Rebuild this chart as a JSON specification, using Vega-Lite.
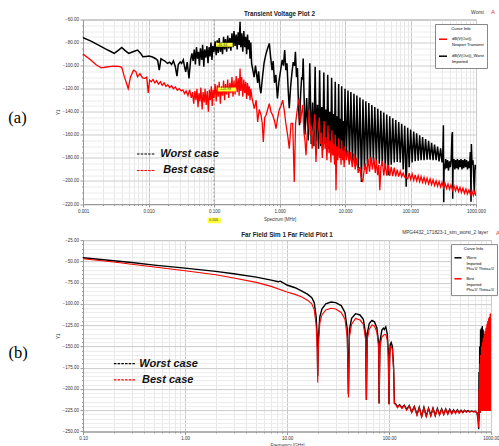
{
"$schema": "https://vega.github.io/schema/vega-lite/v6.json",
"background": "white",
"padding": {"left": 7, "top": 8.5, "right": 0, "bottom": 0},
"bounds": "flush",
"spacing": 35.6,
"resolve": {"scale": {"color": "independent"}, "legend": {"color": "independent"}},
"config": {
  "font": "Liberation Sans",
  "view": {"stroke": "#a0a0a0", "strokeWidth": 1},
  "axis": {"labelFont": "Liberation Sans", "labelFontSize": 4.5, "labelColor": "#333", "domainColor": "#999", "tickColor": "#999", "titleFont": "Liberation Sans", "titleFontSize": 4.5, "titleFontWeight": "normal", "titleColor": "#333", "labelOverlap": false, "labelFlush": false, "grid": true},
  "title": {"font": "Liberation Sans", "fontSize": 6.3, "fontWeight": "bold", "color": "#222"}
},
"datasets": {
"aw": [
{"f":0.001,"v":-75.8},{"f":0.0013,"v":-78.5},{"f":0.0017,"v":-82},{"f":0.0022,"v":-85.5},{"f":0.0027,"v":-88},{"f":0.003,"v":-89.4},{"f":0.0035,"v":-86.5},{"f":0.0039,"v":-84.2},{"f":0.0044,"v":-87},{"f":0.005,"v":-89.4},{"f":0.0058,"v":-88},{"f":0.0068,"v":-86.5},{"f":0.0075,"v":-89},{"f":0.0082,"v":-92.3},{"f":0.0092,"v":-92},{"f":0.0102,"v":-91.7},{"f":0.0115,"v":-92.5},{"f":0.0127,"v":-93.8},{"f":0.0138,"v":-95.5},{"f":0.0146,"v":-103.9},{"f":0.0155,"v":-94},{"f":0.0165,"v":-95},{"f":0.0178,"v":-96},{"f":0.0195,"v":-98.1},{"f":0.021,"v":-97},{"f":0.0225,"v":-99},{"f":0.024,"v":-96},{"f":0.0257,"v":-101},{"f":0.0272,"v":-109.1},{"f":0.0285,"v":-99},{"f":0.0305,"v":-96.7},
{"f":0.032,"v":-98},{"f":0.034,"v":-95},{"f":0.0355,"v":-101},{"f":0.037,"v":-105.4},{"f":0.039,"v":-97},{"f":0.0415,"v":-111.2},{"f":0.044,"v":-95},{"f":0.046,"v":-89.4},{"f":0.048,"v":-96},{"f":0.05,"v":-86},{"f":0.052,"v":-99},{"f":0.054,"v":-84},{"f":0.056,"v":-94},{"f":0.058,"v":-88},{"f":0.06,"v":-100},{"f":0.062,"v":-85},{"f":0.065,"v":-95},{"f":0.067,"v":-82},{"f":0.07,"v":-101},{"f":0.072,"v":-86},{"f":0.075,"v":-93},{"f":0.078,"v":-83},{"f":0.081,"v":-98},{"f":0.084,"v":-84},{"f":0.087,"v":-92},{"f":0.09,"v":-80},{"f":0.093,"v":-95},{"f":0.096,"v":-83},{"f":0.1,"v":-88},
{"f":0.104,"v":-79},{"f":0.108,"v":-91},{"f":0.112,"v":-78},{"f":0.116,"v":-89},{"f":0.12,"v":-76},{"f":0.125,"v":-88},{"f":0.13,"v":-80},{"f":0.135,"v":-90},{"f":0.14,"v":-75},{"f":0.145,"v":-86},{"f":0.15,"v":-77},{"f":0.156,"v":-88},{"f":0.162,"v":-74},{"f":0.168,"v":-85},{"f":0.175,"v":-76},{"f":0.181,"v":-87},{"f":0.188,"v":-72},{"f":0.195,"v":-84},{"f":0.202,"v":-70},{"f":0.21,"v":-83},{"f":0.218,"v":-73},{"f":0.226,"v":-86},{"f":0.234,"v":-71},{"f":0.242,"v":-82},{"f":0.25,"v":-62},{"f":0.256,"v":-84},{"f":0.265,"v":-72},{"f":0.275,"v":-88},{"f":0.285,"v":-70},{"f":0.295,"v":-84},{"f":0.305,"v":-75},{"f":0.315,"v":-90},{"f":0.325,"v":-73},{"f":0.335,"v":-86},{"f":0.345,"v":-78},{"f":0.355,"v":-94},{"f":0.365,"v":-80},{"f":0.375,"v":-98},
{"f":0.41,"v":-110},{"f":0.43,"v":-100},{"f":0.464,"v":-115},{"f":0.48,"v":-105},{"f":0.5,"v":-118},{"f":0.52,"v":-124},
{"f":0.55,"v":-110},{"f":0.58,"v":-98},{"f":0.62,"v":-90},{"f":0.66,"v":-85},{"f":0.7,"v":-80.7},{"f":0.73,"v":-92},{"f":0.77,"v":-104},{"f":0.8,"v":-96},{"f":0.84,"v":-115},{"f":0.88,"v":-108},{"f":0.93,"v":-128.5},{"f":0.98,"v":-114},{"f":1.04,"v":-104},{"f":1.1,"v":-95},{"f":1.15,"v":-100},{"f":1.2,"v":-86.5},{"f":1.25,"v":-104},{"f":1.3,"v":-98},{"f":1.36,"v":-122},{"f":1.41,"v":-137},{"f":1.48,"v":-118},{"f":1.55,"v":-106},{"f":1.62,"v":-97},{"f":1.7,"v":-100},{"f":1.75,"v":-88},{"f":1.82,"v":-110},{"f":1.88,"v":-102},{"f":1.95,"v":-135},{"f":2.02,"v":-151.7},{"f":2.1,"v":-125},{"f":2.18,"v":-110},{"f":2.24,"v":-112},
{"f":2.3,"v":-93.8},{"f":2.45,"v":-160},{"f":2.6,"v":-128},{"f":2.75,"v":-165},{"f":2.9,"v":-98},{"f":3.05,"v":-168},{"f":3.2,"v":-132},{"f":3.35,"v":-170},{"f":3.5,"v":-101},{"f":3.65,"v":-166},{"f":3.8,"v":-134},{"f":3.95,"v":-172},{"f":4.1,"v":-104},{"f":4.26,"v":-170},{"f":4.42,"v":-136},{"f":4.58,"v":-173},{"f":4.75,"v":-106},{"f":4.92,"v":-168},{"f":5.1,"v":-138},{"f":5.27,"v":-175},{"f":5.45,"v":-108},{"f":5.65,"v":-172},{"f":5.85,"v":-140},{"f":6.05,"v":-176},{"f":6.25,"v":-110.6},{"f":6.46,"v":-170},{"f":6.67,"v":-142},{"f":6.88,"v":-177},{"f":7.1,"v":-114},{"f":7.32,"v":-174},{"f":7.55,"v":-144},{"f":7.78,"v":-178},{"f":8.0,"v":-116},{"f":8.22,"v":-172},{"f":8.45,"v":-146},{"f":8.67,"v":-179},{"f":8.9,"v":-118},{"f":9.17,"v":-176},{"f":9.45,"v":-148},{"f":9.72,"v":-180},
{"f":10,"v":-120},{"f":10.54,"v":-178},{"f":11.1,"v":-121.5},{"f":11.7,"v":-183},{"f":12.3,"v":-122.8},{"f":13.0,"v":-185},{"f":13.7,"v":-124.4},{"f":14.4,"v":-187},{"f":15.2,"v":-126},{"f":16.0,"v":-189},{"f":16.9,"v":-127.7},{"f":17.8,"v":-201},{"f":18.8,"v":-129.4},{"f":19.8,"v":-190},{"f":20.8,"v":-130.9},{"f":22.0,"v":-186},{"f":23.1,"v":-132.5},{"f":24.4,"v":-184},{"f":25.7,"v":-134.2},{"f":27.1,"v":-183},{"f":28.5,"v":-135.8},{"f":30.1,"v":-184},{"f":31.7,"v":-137.5},{"f":33.4,"v":-185},{"f":35.2,"v":-139.1},{"f":37.1,"v":-187},{"f":39.1,"v":-140.7},{"f":41.2,"v":-190},{"f":43.4,"v":-142.4},{"f":45.8,"v":-195},{"f":48.2,"v":-144},{"f":50.8,"v":-186},{"f":53.6,"v":-145.7},{"f":56.5,"v":-184},{"f":59.5,"v":-147.2},{"f":62.7,"v":-183.5},{"f":66.1,"v":-148.9},{"f":69.7,"v":-184},{"f":73.4,"v":-150.5},{"f":77.4,"v":-190},{"f":81.6,"v":-152.2},{"f":86.0,"v":-205},{"f":90.6,"v":-153.8},{"f":95.5,"v":-188},{"f":100.6,"v":-155.4},{"f":106,"v":-184},{"f":112,"v":-157.1},{"f":118,"v":-183},{"f":124,"v":-158.7},{"f":131,"v":-182.5},{"f":138,"v":-160.4},{"f":145,"v":-182},{"f":153,"v":-162},{"f":161,"v":-182},{"f":170,"v":-163.6},{"f":179,"v":-181.5},{"f":189,"v":-165.2},{"f":199,"v":-181.5},{"f":210,"v":-166.9},{"f":221,"v":-182},{"f":233,"v":-168.5},{"f":246,"v":-182},{"f":259,"v":-170.2},{"f":273,"v":-183},{"f":288,"v":-171.8},{"f":303,"v":-184},
{"f":310,"v":-180},{"f":318,"v":-151.7},{"f":322,"v":-218.4},{"f":326,"v":-185},{"f":335,"v":-190},{"f":345,"v":-181},{"f":355,"v":-189},{"f":368,"v":-182},{"f":380,"v":-191},{"f":393,"v":-183},{"f":405,"v":-188},{"f":418,"v":-182},{"f":430,"v":-160},{"f":437,"v":-157.6},{"f":441,"v":-215.5},{"f":447,"v":-186},{"f":460,"v":-181},{"f":475,"v":-190},{"f":490,"v":-182},{"f":505,"v":-189},{"f":520,"v":-181},{"f":537,"v":-190},{"f":555,"v":-182},{"f":572,"v":-188},{"f":590,"v":-181},{"f":610,"v":-190},{"f":630,"v":-182},{"f":650,"v":-189},{"f":672,"v":-181},{"f":695,"v":-188},{"f":718,"v":-182},{"f":742,"v":-190},{"f":767,"v":-183},{"f":793,"v":-189},{"f":820,"v":-175},{"f":840,"v":-218},{"f":850,"v":-168},{"f":870,"v":-186},{"f":900,"v":-182},{"f":942,"v":-209.7},{"f":970,"v":-186},{"f":1000,"v":-190}
],
"ab": [
{"f":0.001,"v":-90},{"f":0.0013,"v":-95},{"f":0.0016,"v":-99.5},{"f":0.0019,"v":-101.9},{"f":0.0023,"v":-101.2},{"f":0.0027,"v":-100.7},{"f":0.003,"v":-100.4},{"f":0.0035,"v":-100.6},{"f":0.0039,"v":-101.5},{"f":0.0043,"v":-110},{"f":0.0049,"v":-119.9},{"f":0.0053,"v":-110},{"f":0.0059,"v":-103.9},{"f":0.0064,"v":-105},{"f":0.0068,"v":-109.7},{"f":0.0074,"v":-107},{"f":0.0081,"v":-110.6},{"f":0.0088,"v":-111},{"f":0.0094,"v":-110},{"f":0.0099,"v":-123.6},{"f":0.0104,"v":-112.6},{"f":0.011,"v":-114},{"f":0.0117,"v":-112},{"f":0.0125,"v":-115},{"f":0.0133,"v":-113},{"f":0.0142,"v":-116},{"f":0.0152,"v":-114},{"f":0.0162,"v":-117},{"f":0.0173,"v":-115},{"f":0.0185,"v":-118},{"f":0.0197,"v":-116.5},{"f":0.021,"v":-119},{"f":0.0225,"v":-117.5},{"f":0.024,"v":-120},{"f":0.0257,"v":-118.5},{"f":0.0275,"v":-121.3},{"f":0.0295,"v":-120},{"f":0.0315,"v":-122},
{"f":0.0335,"v":-121},{"f":0.0355,"v":-124.2},{"f":0.0375,"v":-122},{"f":0.04,"v":-126},{"f":0.0425,"v":-121},{"f":0.045,"v":-128},{"f":0.047,"v":-123},{"f":0.049,"v":-133},{"f":0.051,"v":-122},{"f":0.053,"v":-130},{"f":0.055,"v":-120},{"f":0.057,"v":-136},{"f":0.059,"v":-124},{"f":0.061,"v":-131},{"f":0.063,"v":-119},{"f":0.066,"v":-138},{"f":0.068,"v":-123},{"f":0.071,"v":-132},{"f":0.073,"v":-120},{"f":0.076,"v":-134},{"f":0.079,"v":-122},{"f":0.082,"v":-140},{"f":0.085,"v":-121},{"f":0.088,"v":-130},{"f":0.091,"v":-118},{"f":0.094,"v":-135},{"f":0.097,"v":-121},{"f":0.1,"v":-128},
{"f":0.104,"v":-116},{"f":0.108,"v":-131},{"f":0.112,"v":-117},{"f":0.116,"v":-127},{"f":0.12,"v":-114},{"f":0.125,"v":-133},{"f":0.13,"v":-118},{"f":0.135,"v":-126},{"f":0.14,"v":-113},{"f":0.145,"v":-130},{"f":0.15,"v":-116},{"f":0.156,"v":-125},{"f":0.162,"v":-112},{"f":0.168,"v":-128},{"f":0.175,"v":-115},{"f":0.181,"v":-124},{"f":0.188,"v":-110},{"f":0.195,"v":-127},{"f":0.202,"v":-113},{"f":0.21,"v":-125},{"f":0.218,"v":-109},{"f":0.226,"v":-123},{"f":0.234,"v":-111},{"f":0.242,"v":-126},{"f":0.25,"v":-102.5},{"f":0.256,"v":-122},{"f":0.265,"v":-110},{"f":0.275,"v":-127},{"f":0.285,"v":-112},{"f":0.295,"v":-124},{"f":0.305,"v":-114},{"f":0.315,"v":-129},{"f":0.325,"v":-115},{"f":0.335,"v":-126},{"f":0.345,"v":-118},{"f":0.355,"v":-130},{"f":0.365,"v":-120},
{"f":0.38,"v":-128},{"f":0.412,"v":-137.2},{"f":0.44,"v":-130},{"f":0.464,"v":-148.9},{"f":0.49,"v":-138},{"f":0.523,"v":-143},{"f":0.545,"v":-150},{"f":0.566,"v":-166.3},{"f":0.595,"v":-145},{"f":0.622,"v":-143},{"f":0.66,"v":-138},{"f":0.698,"v":-132.9},{"f":0.74,"v":-140},{"f":0.787,"v":-143},{"f":0.84,"v":-148},{"f":0.884,"v":-154.6},{"f":0.94,"v":-145},{"f":0.993,"v":-138},{"f":1.05,"v":-135},{"f":1.12,"v":-130},{"f":1.19,"v":-140},{"f":1.26,"v":-151.7},{"f":1.33,"v":-160},{"f":1.41,"v":-172},{"f":1.5,"v":-150},{"f":1.59,"v":-150},{"f":1.68,"v":-201},{"f":1.76,"v":-150},{"f":1.85,"v":-140},{"f":1.93,"v":-132},{"f":2.0,"v":-128.5},{"f":2.08,"v":-150},{"f":2.16,"v":-142},{"f":2.26,"v":-134},{"f":2.36,"v":-158},{"f":2.45,"v":-165},{"f":2.54,"v":-177.8},{"f":2.64,"v":-160},{"f":2.75,"v":-150},{"f":2.85,"v":-138},{"f":2.95,"v":-160},{"f":3.05,"v":-152},{"f":3.15,"v":-172},{"f":3.3,"v":-156},{"f":3.45,"v":-142},{"f":3.6,"v":-183.6},{"f":3.75,"v":-162},{"f":3.9,"v":-155},{"f":4.05,"v":-145},{"f":4.2,"v":-168},{"f":4.35,"v":-158},{"f":4.5,"v":-180},{"f":4.65,"v":-165},{"f":4.8,"v":-148},{"f":4.95,"v":-172},{"f":5.1,"v":-162},{"f":5.3,"v":-182},{"f":5.5,"v":-152},{"f":5.7,"v":-176},{"f":5.9,"v":-165},{"f":6.1,"v":-184},{"f":6.3,"v":-156},{"f":6.5,"v":-178},{"f":6.7,"v":-168},{"f":6.95,"v":-186},{"f":7.1,"v":-160},{"f":7.29,"v":-208},{"f":7.5,"v":-170},{"f":7.75,"v":-182},{"f":8.0,"v":-163},{"f":8.25,"v":-180},{"f":8.5,"v":-172},{"f":8.7,"v":-186},{"f":8.9,"v":-165},{"f":9.2,"v":-182},{"f":9.45,"v":-174},{"f":9.7,"v":-188},{"f":10.0,"v":-170},
{"f":10.5,"v":-182},{"f":11.0,"v":-173.5},{"f":11.6,"v":-186},{"f":12.2,"v":-175},{"f":12.9,"v":-188},{"f":13.6,"v":-176},{"f":14.3,"v":-190},{"f":15.1,"v":-180},{"f":15.9,"v":-193},{"f":16.8,"v":-188},{"f":17.7,"v":-197},{"f":18.6,"v":-201},{"f":19.5,"v":-192},{"f":20.4,"v":-185},{"f":21.4,"v":-194},{"f":22.5,"v":-181},{"f":23.7,"v":-192},{"f":24.9,"v":-179},{"f":26.2,"v":-190},{"f":27.6,"v":-180},{"f":29.0,"v":-193},{"f":30.2,"v":-182},{"f":31.5,"v":-195},{"f":32.8,"v":-186},{"f":34.0,"v":-208},{"f":35.3,"v":-188},
{"f":37.1,"v":-182.7},{"f":39.1,"v":-195.2},{"f":41.2,"v":-184.7},{"f":43.4,"v":-195.4},{"f":45.8,"v":-186.2},{"f":48.2,"v":-195.6},{"f":50.8,"v":-187.7},{"f":53.6,"v":-195.8},{"f":56.5,"v":-188.5},{"f":59.5,"v":-196},{"f":62.7,"v":-190.1},{"f":66.1,"v":-196.2},{"f":69.7,"v":-191.6},{"f":73.4,"v":-196.4},{"f":77.4,"v":-193.1},{"f":81.6,"v":-196.7},{"f":86.0,"v":-197},{"f":90.6,"v":-198.2},{"f":95.5,"v":-193.3},{"f":100.6,"v":-198.6},{"f":106,"v":-194},{"f":112,"v":-199.3},{"f":118,"v":-194.7},{"f":124,"v":-199.9},{"f":131,"v":-195.5},{"f":138,"v":-200.6},{"f":145,"v":-196.2},{"f":153,"v":-201.2},{"f":161,"v":-196.9},{"f":170,"v":-201.9},{"f":179,"v":-197.6},{"f":189,"v":-202.5},{"f":199,"v":-198.3},{"f":210,"v":-203.2},{"f":221,"v":-199.1},{"f":233,"v":-203.9},{"f":246,"v":-199.8},{"f":259,"v":-204.6},{"f":273,"v":-200.5},{"f":288,"v":-205.2},{"f":303,"v":-201.2},{"f":319,"v":-205.9},{"f":336,"v":-202},{"f":355,"v":-206.6},{"f":374,"v":-202.7},{"f":394,"v":-207.3},{"f":415,"v":-203.4},{"f":438,"v":-208},{"f":461,"v":-204.1},{"f":486,"v":-208.6},{"f":512,"v":-204.8},{"f":540,"v":-209.3},{"f":569,"v":-205.6},{"f":600,"v":-210},{"f":632,"v":-206.3},{"f":666,"v":-210.7},{"f":702,"v":-207},{"f":740,"v":-211.3},{"f":780,"v":-207.8},{"f":822,"v":-212},{"f":866,"v":-208.5},{"f":913,"v":-212.7},{"f":962,"v":-209.2},{"f":1000,"v":-213}
],
"bw": [
{"f":0.1,"v":-45.8},{"f":0.2,"v":-49.3},{"f":0.3,"v":-51.3},{"f":0.5,"v":-54.4},{"f":1.0,"v":-57.9},{"f":2.0,"v":-61.8},{"f":3.0,"v":-64.5},{"f":5.0,"v":-68.5},{"f":7.0,"v":-72},{"f":8.2,"v":-74},{"f":8.6,"v":-73.3},{"f":9.0,"v":-74.8},{"f":10,"v":-77.8},{"f":12,"v":-81},{"f":14,"v":-84.9},{"f":16,"v":-88.8},{"f":17.5,"v":-92.7},{"f":18.5,"v":-98.6},{"f":19.3,"v":-115},{"f":19.8,"v":-140},{"f":20.0,"v":-185},{"f":20.3,"v":-140},{"f":21,"v":-115},{"f":22,"v":-106},{"f":24,"v":-100},{"f":27,"v":-97.8},{"f":30,"v":-98.5},{"f":34,"v":-102},{"f":37,"v":-110},{"f":39,"v":-130},{"f":40,"v":-206},{"f":41,"v":-130},{"f":43,"v":-117},{"f":47,"v":-111.5},{"f":52,"v":-113},{"f":56,"v":-118},{"f":59,"v":-135},{"f":60,"v":-213},{"f":61.2,"v":-135},{"f":64,"v":-123},{"f":68,"v":-119.4},{"f":72,"v":-121},{"f":76,"v":-128},{"f":79,"v":-145},{"f":80,"v":-217},{"f":81.5,"v":-145},{"f":85,"v":-131},{"f":88,"v":-128.5},{"f":90,"v":-130},{"f":93,"v":-127},{"f":96,"v":-135},{"f":98.5,"v":-155},{"f":100,"v":-218},{"f":101.5,"v":-160},{"f":103,"v":-148},{"f":105,"v":-145.5},{"f":108,"v":-150},{"f":111,"v":-175},{"f":113,"v":-217},
{"f":116,"v":-217.5},{"f":121,"v":-221},{"f":127,"v":-218.5},{"f":134,"v":-222},{"f":141,"v":-219},{"f":149,"v":-224},{"f":158,"v":-219.5},{"f":167,"v":-227},{"f":177,"v":-220.5},{"f":188,"v":-230},{"f":198,"v":-221.5},{"f":209,"v":-232},{"f":220,"v":-221.5},{"f":232,"v":-232},{"f":244,"v":-222.5},{"f":257,"v":-231},{"f":270,"v":-222.5},{"f":284,"v":-231},{"f":298,"v":-223},{"f":313,"v":-230},{"f":328,"v":-223.5},{"f":344,"v":-229.5},{"f":360,"v":-223.5},{"f":377,"v":-229},{"f":394,"v":-224},{"f":412,"v":-228.5},{"f":430,"v":-224.5},{"f":449,"v":-228},{"f":468,"v":-224.5},{"f":488,"v":-228},{"f":508,"v":-225},{"f":529,"v":-227.5},{"f":551,"v":-225},{"f":573,"v":-227},{"f":596,"v":-225.5},{"f":620,"v":-226.8},{"f":645,"v":-225.8},{"f":670,"v":-226.6},{"f":700,"v":-226.2},{"f":730,"v":-228},{"f":748,"v":-237},{"f":757,"v":-247.3},
{"f":762,"v":-180},{"f":768,"v":-235},{"f":775,"v":-150},{"f":782,"v":-228},{"f":790,"v":-130},{"f":798,"v":-226},{"f":806,"v":-128},{"f":814,"v":-226},{"f":822,"v":-126},{"f":830,"v":-226},{"f":838,"v":-130},{"f":846,"v":-226},{"f":855,"v":-135},{"f":864,"v":-226},{"f":873,"v":-140},{"f":882,"v":-226},{"f":891,"v":-145},{"f":900,"v":-226},{"f":909,"v":-150},{"f":918,"v":-226},{"f":927,"v":-150},{"f":936,"v":-226},{"f":945,"v":-155},{"f":954,"v":-226},{"f":963,"v":-155},{"f":972,"v":-226},{"f":981,"v":-160},{"f":990,"v":-226},{"f":1000,"v":-160}
],
"bb": [
{"f":0.1,"v":-47},{"f":0.2,"v":-50.8},{"f":0.3,"v":-53.4},{"f":0.5,"v":-56.7},{"f":1.0,"v":-61},{"f":2.0,"v":-65.7},{"f":3.0,"v":-69.6},{"f":5.0,"v":-74.7},{"f":7.0,"v":-79.4},{"f":10,"v":-86},{"f":12,"v":-88.8},{"f":14,"v":-91.9},{"f":16,"v":-95.9},{"f":17.5,"v":-100},{"f":18.5,"v":-107},{"f":19.3,"v":-125},{"f":19.8,"v":-155},{"f":20,"v":-192.5},{"f":20.3,"v":-150},{"f":21,"v":-122},{"f":22,"v":-113},{"f":24,"v":-107},{"f":27,"v":-105.2},{"f":30,"v":-106},{"f":34,"v":-110},{"f":37,"v":-118},{"f":39,"v":-140},{"f":40,"v":-210},{"f":41,"v":-138},{"f":43,"v":-124},{"f":47,"v":-117},{"f":52,"v":-119},{"f":56,"v":-124},{"f":59,"v":-142},{"f":60,"v":-213},{"f":61.2,"v":-142},{"f":64,"v":-130},{"f":68,"v":-124.8},{"f":72,"v":-126},{"f":76,"v":-133},{"f":79,"v":-150},{"f":80,"v":-217},{"f":81.5,"v":-152},{"f":85,"v":-139},{"f":90,"v":-136},{"f":93,"v":-136},{"f":96,"v":-142},{"f":98.5,"v":-162},{"f":100,"v":-218},{"f":101.5,"v":-165},{"f":103,"v":-152},{"f":105,"v":-149.4},{"f":108,"v":-154},{"f":111,"v":-178},{"f":113,"v":-216.8},
{"f":116,"v":-218},{"f":121,"v":-222},{"f":127,"v":-219},{"f":134,"v":-223},{"f":141,"v":-219.5},{"f":149,"v":-225},{"f":158,"v":-220},{"f":167,"v":-228},{"f":177,"v":-221},{"f":188,"v":-231},{"f":198,"v":-222},{"f":209,"v":-233},{"f":220,"v":-222},{"f":232,"v":-233},{"f":244,"v":-223},{"f":257,"v":-232},{"f":270,"v":-223},{"f":284,"v":-232},{"f":298,"v":-223.5},{"f":313,"v":-231},{"f":328,"v":-224},{"f":344,"v":-230.5},{"f":360,"v":-224},{"f":377,"v":-230},{"f":394,"v":-224.5},{"f":412,"v":-229.5},{"f":430,"v":-225},{"f":449,"v":-229},{"f":468,"v":-225},{"f":488,"v":-228.5},{"f":508,"v":-225.5},{"f":529,"v":-228},{"f":551,"v":-225.5},{"f":573,"v":-227.5},{"f":596,"v":-226},{"f":620,"v":-227.2},{"f":645,"v":-226.2},{"f":670,"v":-227},{"f":700,"v":-226.5},{"f":730,"v":-228},{"f":748,"v":-236},{"f":757,"v":-245.3},
{"f":762,"v":-200},{"f":768,"v":-238},{"f":775,"v":-170},{"f":782,"v":-228},{"f":790,"v":-160},{"f":798,"v":-226},{"f":806,"v":-150},{"f":814,"v":-226},{"f":822,"v":-145},{"f":830,"v":-226},{"f":838,"v":-140},{"f":846,"v":-226},{"f":855,"v":-136},{"f":864,"v":-226},{"f":873,"v":-132},{"f":882,"v":-226},{"f":891,"v":-128},{"f":900,"v":-226},{"f":909,"v":-124},{"f":918,"v":-226},{"f":927,"v":-120},{"f":936,"v":-226},{"f":945,"v":-117},{"f":954,"v":-226},{"f":963,"v":-115},{"f":972,"v":-226},{"f":981,"v":-112},{"f":990,"v":-226},{"f":1000,"v":-110.3}
]
},
"vconcat": [
{
  "width": 393, "height": 184.5,
  "title": {"text": "Transient Voltage Plot 2", "frame": "group", "offset": -8.5},
  "encoding": {
    "x": {"field": "f", "type": "quantitative",
      "scale": {"type": "log", "domain": [0.001, 1000], "nice": false},
      "axis": {"title": "Spectrum [MHz]", "titlePadding": 3.5, "labelPadding": 1,
        "values": [0.001,0.002,0.003,0.004,0.005,0.006,0.007,0.008,0.009,0.01,0.02,0.03,0.04,0.05,0.06,0.07,0.08,0.09,0.1,0.2,0.3,0.4,0.5,0.6,0.7,0.8,0.9,1,2,3,4,5,6,7,8,9,10,20,30,40,50,60,70,80,90,100,200,300,400,500,600,700,800,900,1000],
        "labelExpr": "abs(log(datum.value)/LN10 - round(log(datum.value)/LN10)) < 0.01 ? format(datum.value, '.3f') : ''",
        "gridColor": {"condition": {"test": "abs(log(datum.value)/LN10 - round(log(datum.value)/LN10)) < 0.01", "value": "#c8c8c8"}, "value": "#e8e8e8"},
        "tickSize": {"condition": {"test": "abs(log(datum.value)/LN10 - round(log(datum.value)/LN10)) < 0.01", "value": 3}, "value": 1.5}}},
    "y": {"field": "v", "type": "quantitative",
      "scale": {"domain": [-220, -60], "nice": false, "zero": false},
      "axis": {"title": "Y1", "titlePadding": 2, "labelPadding": 1.5,
        "values": [-220,-215,-210,-205,-200,-195,-190,-185,-180,-175,-170,-165,-160,-155,-150,-145,-140,-135,-130,-125,-120,-115,-110,-105,-100,-95,-90,-85,-80,-75,-70,-65,-60],
        "labelExpr": "datum.value % 20 === 0 ? format(datum.value, '.2f') : ''",
        "gridColor": {"condition": {"test": "datum.value % 20 === 0", "value": "#cccccc"}, "value": "#ececec"},
        "tickSize": {"condition": {"test": "datum.value % 20 === 0", "value": 3}, "value": 1.5}}}
  },
  "layer": [
    {"data": {"values": [{"f": 0.1, "v": -60, "v2": -220}]},
     "mark": {"type": "rule", "color": "#8c8c8c", "strokeDash": [2, 2], "strokeWidth": 0.8},
     "encoding": {"y2": {"field": "v2"}}},
    {"data": {"name": "aw"},
     "mark": {"type": "line", "strokeWidth": 1.5, "clip": true},
     "encoding": {"color": {"datum": "dB(V(Out))_Worst|Imported",
        "scale": {"domain": ["dB(V(Out))|Nexport Transient", "dB(V(Out))_Worst|Imported"], "range": ["#ff0000", "#000000"]},
        "legend": {"title": "Curve Info", "orient": "none", "legendX": 352, "legendY": 4.5, "fillColor": "#ffffff", "strokeColor": "#888888", "padding": 3, "titleFontSize": 4.2, "titleFontWeight": "normal", "titleAnchor": "middle", "titlePadding": 3, "labelFontSize": 4, "labelExpr": "split(datum.label, '|')", "symbolType": "stroke", "symbolStrokeWidth": 1.5, "symbolSize": 64, "rowPadding": 4, "labelLimit": 100}}}},
    {"data": {"name": "ab"},
     "mark": {"type": "line", "strokeWidth": 1.3, "clip": true},
     "encoding": {"color": {"datum": "dB(V(Out))|Nexport Transient"}}},
    {"data": {"values": [
        {"f": 0.1073, "f2": 0.193, "v": -80.2, "v2": -83.6, "vm": -81.9, "t": "-81.64"},
        {"f": 0.1143, "f2": 0.2164, "v": -119, "v2": -122.4, "vm": -120.7, "t": "-120.98"},
        {"f": 0.08, "f2": 0.1271, "v": -232, "v2": -236.7, "vm": -234.3, "t": "0.100"}]},
     "layer": [
       {"mark": {"type": "rect", "fill": "#ffff33"},
        "encoding": {"x2": {"field": "f2"}, "y2": {"field": "v2"}}},
       {"mark": {"type": "text", "fontSize": 3.5, "align": "left", "dx": 1.5, "baseline": "middle", "color": "#333"},
        "encoding": {"y": {"field": "vm", "type": "quantitative"}, "text": {"field": "t"}}}
     ]},
    {"data": {"values": [
        {"f": 0.00668, "f2": 0.01256, "v": -176.7, "c": "#000000"},
        {"f": 0.00668, "f2": 0.01256, "v": -190.9, "c": "#ff0000"}]},
     "mark": {"type": "rule", "strokeDash": [2.5, 1.2], "strokeWidth": 1.1},
     "encoding": {"x2": {"field": "f2"}, "stroke": {"field": "c", "type": "nominal", "scale": null}}},
    {"data": {"values": [
        {"f": 0.01514, "v": -176.7, "t": "Worst case"},
        {"f": 0.01683, "v": -190.9, "t": "Best case"}]},
     "mark": {"type": "text", "font": "Liberation Sans", "fontSize": 11, "fontStyle": "italic", "fontWeight": "bold", "align": "left", "baseline": "middle", "color": "#111"},
     "encoding": {"text": {"field": "t"}}},
    {"data": {"values": [{"f": 0.0001, "v": -145.7, "t": "(a)"}]},
     "mark": {"type": "text", "font": "Liberation Serif", "fontSize": 16.5, "align": "center", "baseline": "middle", "color": "#000"},
     "encoding": {"text": {"field": "t"}}},
    {"data": {"values": [{"f": 1325, "v": -53.5, "t": "Worst"}]},
     "mark": {"type": "text", "fontSize": 5, "align": "right", "baseline": "middle", "color": "#333"},
     "encoding": {"text": {"field": "t"}}},
    {"data": {"values": [{"f": 1818, "v": -53.5, "t": "A"}]},
     "mark": {"type": "text", "fontSize": 6, "align": "center", "baseline": "middle", "color": "#e03030"},
     "encoding": {"text": {"field": "t"}}}
  ]
},
{
  "width": 408, "height": 191.4,
  "title": {"text": "Far Field Sim 1 Far Field Plot 1", "frame": "group", "offset": -8},
  "encoding": {
    "x": {"field": "f", "type": "quantitative",
      "scale": {"type": "log", "domain": [0.1, 1000], "nice": false},
      "axis": {"title": "Frequency [GHz]", "titlePadding": 2, "labelPadding": 1,
        "values": [0.1,0.2,0.3,0.4,0.5,0.6,0.7,0.8,0.9,1,2,3,4,5,6,7,8,9,10,20,30,40,50,60,70,80,90,100,200,300,400,500,600,700,800,900,1000],
        "labelExpr": "abs(log(datum.value)/LN10 - round(log(datum.value)/LN10)) < 0.01 ? format(datum.value, '.2f') : ''",
        "gridColor": {"condition": {"test": "abs(log(datum.value)/LN10 - round(log(datum.value)/LN10)) < 0.01", "value": "#c8c8c8"}, "value": "#e8e8e8"},
        "tickSize": {"condition": {"test": "abs(log(datum.value)/LN10 - round(log(datum.value)/LN10)) < 0.01", "value": 3}, "value": 1.5}}},
    "y": {"field": "v", "type": "quantitative",
      "scale": {"domain": [-250, -25], "nice": false, "zero": false},
      "axis": {"title": "Y1", "titlePadding": 2, "labelPadding": 1.5,
        "values": [-250,-245,-240,-235,-230,-225,-220,-215,-210,-205,-200,-195,-190,-185,-180,-175,-170,-165,-160,-155,-150,-145,-140,-135,-130,-125,-120,-115,-110,-105,-100,-95,-90,-85,-80,-75,-70,-65,-60,-55,-50,-45,-40,-35,-30,-25],
        "labelExpr": "datum.value % 25 === 0 ? format(datum.value, '.2f') : ''",
        "gridColor": {"condition": {"test": "datum.value % 25 === 0", "value": "#cccccc"}, "value": "#ececec"},
        "tickSize": {"condition": {"test": "datum.value % 25 === 0", "value": 3}, "value": 1.5}}}
  },
  "layer": [
    {"data": {"name": "bw"},
     "mark": {"type": "line", "strokeWidth": 1.4, "clip": true},
     "encoding": {"color": {"datum": "Worst|Imported|Phi='0' Theta='0'",
        "scale": {"domain": ["Worst|Imported|Phi='0' Theta='0'", "Best|Imported|Phi='0' Theta='0'"], "range": ["#000000", "#ff0000"]},
        "legend": {"title": "Curve Info", "orient": "none", "legendX": 368, "legendY": 4, "fillColor": "#ffffff", "strokeColor": "#888888", "padding": 2.5, "titleFontSize": 4.2, "titleFontWeight": "normal", "titleAnchor": "middle", "titlePadding": 2.5, "labelFontSize": 3.8, "labelExpr": "split(datum.label, '|')", "symbolType": "stroke", "symbolStrokeWidth": 1.5, "symbolSize": 50, "rowPadding": 3, "labelLimit": 100}}}},
    {"data": {"name": "bb"},
     "mark": {"type": "line", "strokeWidth": 1.1, "clip": true},
     "encoding": {"color": {"datum": "Best|Imported|Phi='0' Theta='0'"}}},
    {"data": {"values": [
        {"f": 0.201, "f2": 0.331, "v": -170.2, "c": "#000000"},
        {"f": 0.201, "f2": 0.331, "v": -189.3, "c": "#ff0000"}]},
     "mark": {"type": "rule", "strokeDash": [2.5, 1.2], "strokeWidth": 1.1},
     "encoding": {"x2": {"field": "f2"}, "stroke": {"field": "c", "type": "nominal", "scale": null}}},
    {"data": {"values": [
        {"f": 0.357, "v": -170.2, "t": "Worst case"},
        {"f": 0.379, "v": -189.3, "t": "Best case"}]},
     "mark": {"type": "text", "font": "Liberation Sans", "fontSize": 11, "fontStyle": "italic", "fontWeight": "bold", "align": "left", "baseline": "middle", "color": "#111"},
     "encoding": {"text": {"field": "t"}}},
    {"data": {"values": [{"f": 0.0231, "v": -157.3, "t": "(b)"}]},
     "mark": {"type": "text", "font": "Liberation Serif", "fontSize": 16.5, "align": "center", "baseline": "middle", "color": "#000"},
     "encoding": {"text": {"field": "t"}}},
    {"data": {"values": [{"f": 935, "v": -16.8, "t": "MPG4432_171823-1_sim_worst_2 layer"}]},
     "mark": {"type": "text", "fontSize": 4.8, "align": "right", "baseline": "middle", "color": "#333"},
     "encoding": {"text": {"field": "t"}}},
    {"data": {"values": [{"f": 1172, "v": -16.8, "t": "A"}]},
     "mark": {"type": "text", "fontSize": 6, "align": "center", "baseline": "middle", "color": "#e03030"},
     "encoding": {"text": {"field": "t"}}}
  ]
}
]
}
